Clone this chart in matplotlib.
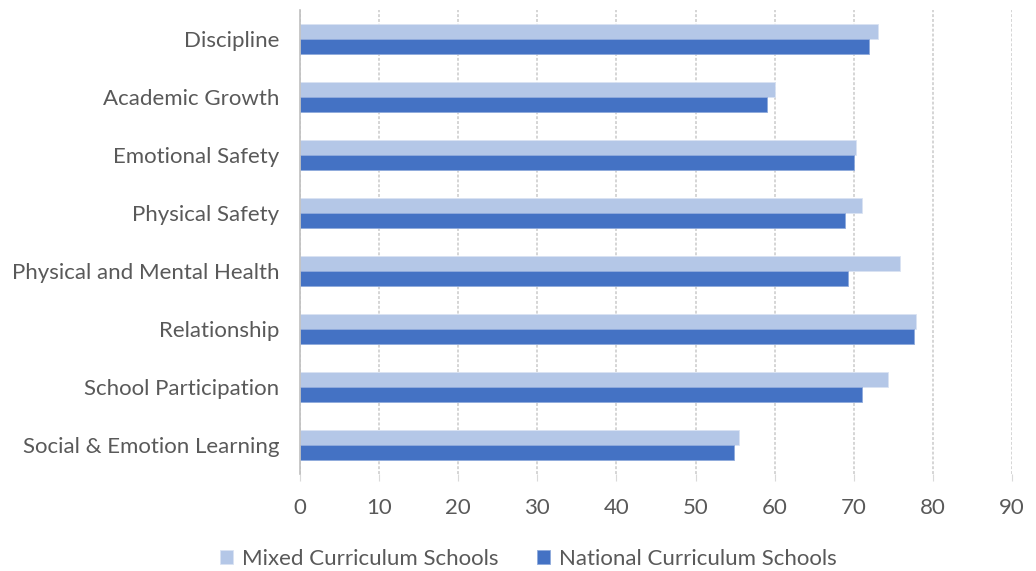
import matplotlib.pyplot as plt
import numpy as np

categories = ["Discipline", "Academic Growth", "Emotional Safety", "Physical Safety",
              "Physical and Mental Health", "Relationship", "School Participation",
              "Social & Emotion Learning"]
mixed = [73.1, 60.0, 70.3, 71.0, 75.8, 77.9, 74.3, 55.5]
national = [71.9, 59.0, 70.0, 68.9, 69.3, 77.6, 71.1, 54.9]
series_names = ["Mixed Curriculum Schools", "National Curriculum Schools"]
x_ticks = list(range(0, 100, 10))

LIGHT = "#b4c7e7"
DARK = "#4472c4"
TEXT = "#595959"

plt.rcParams['font.family'] = ['Lato', 'DejaVu Sans']

fig = plt.figure(figsize=(10.36, 5.71), dpi=100)
ax = fig.add_axes([300 / 1036, 1 - 474 / 571, 712 / 1036, 464 / 571])

y = np.arange(len(categories))
h = 0.26
ax.barh(y - h / 2, mixed, height=h, color=LIGHT, edgecolor="#dae3f3", linewidth=0.6,
        label=series_names[0], zorder=3)
ax.barh(y + h / 2, national, height=h, color=DARK, edgecolor="#8faadc", linewidth=0.6,
        label=series_names[1], zorder=3)

ax.set_ylim(len(categories) - 0.5, -0.5)
ax.set_xlim(0, 90)
ax.set_yticks(y)
ax.set_yticklabels(categories, fontsize=16, color=TEXT)
ax.set_xticks(x_ticks)
ax.set_xticklabels([str(v) for v in x_ticks], fontsize=16, color=TEXT)

ax.grid(True, axis='x', color="#d5d5d5", linestyle=(0, (1.5, 1)), linewidth=1.4, zorder=0)
ax.tick_params(axis='y', length=0, pad=15)
ax.tick_params(axis='x', length=5, color="#d9d9d9", pad=12, direction='out')

for side in ['top', 'right', 'bottom']:
    ax.spines[side].set_visible(False)
ax.spines['left'].set_color("#bfbfbf")
ax.spines['left'].set_linewidth(1.2)
ax.spines['left'].set_zorder(4)

leg = fig.legend(loc='lower center', bbox_to_anchor=(0.51, -0.032), ncol=2, frameon=False,
                 fontsize=16, handlelength=0.6, handleheight=0.6, handletextpad=0.4,
                 columnspacing=1.7)
for t in leg.get_texts():
    t.set_color(TEXT)

fig.savefig("out.png", dpi=100, facecolor="white")
